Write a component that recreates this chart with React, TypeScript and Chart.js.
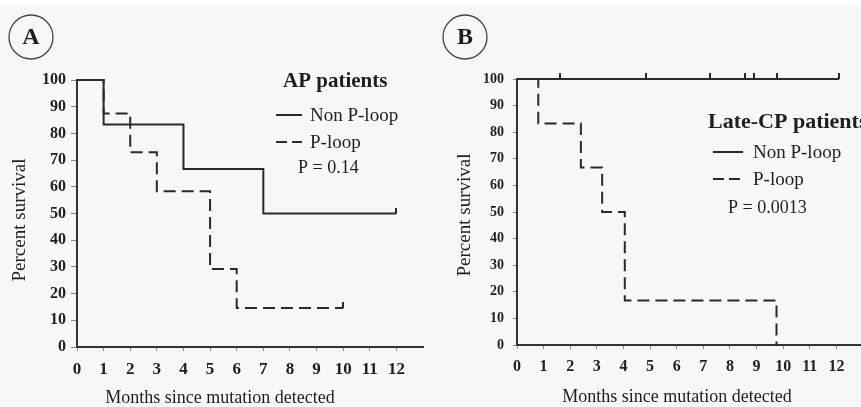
import React, { useEffect, useRef } from "react";
import { Chart, registerables } from "chart.js";

Chart.register(...registerables);

// ---------- data ----------
const monthTicks = [0, 1, 2, 3, 4, 5, 6, 7, 8, 9, 10, 11, 12];
const percentTicks = [0, 10, 20, 30, 40, 50, 60, 70, 80, 90, 100];

// Panel A – AP patients
const aNonTimes = [0, 1, 4, 7, 12];
const aNonSurv = [100, 83.3, 66.7, 50, 50];
const aNonCensor = [12];
const aPTimes = [0, 1, 2, 3, 5, 6, 10];
const aPSurv = [100, 87.5, 72.9, 58.3, 29.2, 14.6, 14.6];
const aPCensor = [10];

// Panel B – Late-CP patients
const bNonTimes = [0, 12.1];
const bNonSurv = [100, 100];
const bNonCensor = [1.6, 4.85, 7.25, 8.55, 8.9, 9.75, 12.1];
const bPTimes = [0, 0.8, 2.4, 3.2, 4.05, 9.75];
const bPSurv = [100, 83.3, 66.7, 50, 16.7, 0];
const bPCensor: number[] = [];

const seriesLabels = ["Non P-loop", "P-loop"];

// ---------- helpers ----------
const SERIF = '"Liberation Serif", "Times New Roman", serif';
const INK = "#2a2a2a";

function stepAt(times: number[], surv: number[], t: number) {
  let v = surv[0];
  for (let i = 0; i < times.length; i++) if (times[i] <= t) v = surv[i];
  return v;
}

function tickImage() {
  const c = document.createElement("canvas");
  c.width = 2;
  c.height = 12;
  const g = c.getContext("2d")!;
  g.fillStyle = INK;
  g.fillRect(0, 0, 2, 6);
  return c;
}

type Deco = {
  letter: string;
  circle: [number, number, number];
  title: string;
  titleSize: number;
  titlePos: [number, number];
  sampleX: number;
  sampleLen: number;
  legendY: [number, number];
  textX: number;
  pText: string;
  pPos: [number, number];
  yTitle: [number, number];
  xTitle: [number, number];
};

function makeDeco(d: Deco) {
  return {
    id: "deco",
    afterDraw(chart: any) {
      const ctx: CanvasRenderingContext2D = chart.ctx;
      ctx.save();
      // panel letter
      ctx.strokeStyle = "#444";
      ctx.lineWidth = 1.3;
      ctx.beginPath();
      ctx.arc(d.circle[0], d.circle[1], d.circle[2], 0, Math.PI * 2);
      ctx.stroke();
      ctx.fillStyle = "#1e1e1e";
      ctx.font = `bold 24px ${SERIF}`;
      ctx.textAlign = "center";
      ctx.textBaseline = "middle";
      ctx.fillText(d.letter, d.circle[0], d.circle[1] + 1);

      // title
      ctx.textAlign = "left";
      ctx.font = `bold ${d.titleSize}px ${SERIF}`;
      ctx.fillText(d.title, d.titlePos[0], d.titlePos[1]);

      // legend
      ctx.font = `19px ${SERIF}`;
      ctx.strokeStyle = INK;
      ctx.lineWidth = 2;
      seriesLabels.forEach((lab, i) => {
        const y = d.legendY[i];
        ctx.setLineDash(i === 0 ? [] : [11, 5]);
        ctx.beginPath();
        ctx.moveTo(d.sampleX, y);
        ctx.lineTo(d.sampleX + d.sampleLen, y);
        ctx.stroke();
        ctx.fillText(lab, d.textX, y + 1);
      });
      ctx.setLineDash([]);

      // p value
      ctx.font = `18px ${SERIF}`;
      ctx.fillText(d.pText, d.pPos[0], d.pPos[1]);

      // axis titles
      ctx.textAlign = "center";
      ctx.fillText("Months since mutation detected", d.xTitle[0], d.xTitle[1]);
      ctx.save();
      ctx.translate(d.yTitle[0], d.yTitle[1]);
      ctx.rotate(-Math.PI / 2);
      ctx.font = `19px ${SERIF}`;
      ctx.fillText("Percent survival", 0, 0);
      ctx.restore();

      ctx.restore();
    },
  };
}

type PanelProps = {
  nonTimes: number[];
  nonSurv: number[];
  nonCensor: number[];
  pTimes: number[];
  pSurv: number[];
  pCensor: number[];
  width: number;
  yAxisWidth: number;
  xAxisHeight: number;
  padTop: number;
  padRight: number;
  yTickFont: number;
  xTickFont: number;
  yTickLen: number;
  yTickPad: number;
  deco: Deco;
};

function Panel(p: PanelProps) {
  const ref = useRef<HTMLCanvasElement | null>(null);
  useEffect(() => {
    if (!ref.current) return;
    const img = tickImage();
    const curve = (times: number[], surv: number[], dash: number[]) => ({
      data: times.map((t, i) => ({ x: t, y: surv[i] })),
      showLine: true,
      stepped: true,
      borderColor: INK,
      borderWidth: 2,
      borderDash: dash,
      pointRadius: 0,
      clip: false as any,
    });
    const censor = (times: number[], surv: number[], marks: number[]) => ({
      data: marks.map((t) => ({ x: t, y: stepAt(times, surv, t) })),
      showLine: false,
      pointStyle: img as any,
      pointRadius: 6,
      clip: false as any,
    });
    const chart = new Chart(ref.current, {
      type: "scatter",
      data: {
        datasets: [
          curve(p.pTimes, p.pSurv, [12, 6]),
          curve(p.nonTimes, p.nonSurv, []),
          censor(p.pTimes, p.pSurv, p.pCensor),
          censor(p.nonTimes, p.nonSurv, p.nonCensor),
        ] as any,
      },
      options: {
        animation: false,
        responsive: false,
        events: [],
        layout: { padding: { top: p.padTop, right: p.padRight, left: 0, bottom: 0 } },
        plugins: { legend: { display: false }, tooltip: { enabled: false } },
        scales: {
          x: {
            type: "linear",
            min: 0,
            max: 13,
            afterBuildTicks: (s: any) => {
              s.ticks = monthTicks.map((v) => ({ value: v }));
            },
            afterFit: (s: any) => {
              s.height = p.xAxisHeight;
            },
            grid: { drawOnChartArea: false, drawTicks: true, tickLength: 4, tickColor: "#888" },
            border: { color: "#333", width: 2 },
            ticks: {
              autoSkip: false,
              maxRotation: 0,
              padding: 8,
              color: "#1e1e1e",
              font: { family: SERIF, size: p.xTickFont, weight: "bold" },
            },
          },
          y: {
            type: "linear",
            min: 0,
            max: 100,
            afterBuildTicks: (s: any) => {
              s.ticks = percentTicks.map((v) => ({ value: v }));
            },
            afterFit: (s: any) => {
              s.width = p.yAxisWidth;
            },
            grid: { drawOnChartArea: false, drawTicks: true, tickLength: p.yTickLen, tickColor: "#888" },
            border: { color: "#333", width: 2 },
            ticks: {
              padding: p.yTickPad,
              color: "#1e1e1e",
              font: { family: SERIF, size: p.yTickFont, weight: "bold" },
            },
          },
        },
      } as any,
      plugins: [makeDeco(p.deco)],
    });
    return () => chart.destroy();
  }, []);
  return <canvas ref={ref} width={p.width} height={407} style={{ display: "block" }} />;
}

export default function App() {
  return (
    <div
      style={{
        position: "absolute",
        left: 0,
        top: 0,
        width: 861,
        height: 407,
        overflow: "hidden",
        background: "#f7f7f7",
      }}
    >
      <div style={{ position: "absolute", left: 0, top: 0, width: 861, height: 5, background: "#ffffff" }} />
      <div style={{ position: "absolute", left: 0, top: 0 }}>
        <Panel
          nonTimes={aNonTimes}
          nonSurv={aNonSurv}
          nonCensor={aNonCensor}
          pTimes={aPTimes}
          pSurv={aPSurv}
          pCensor={aPCensor}
          width={430}
          yAxisWidth={77}
          xAxisHeight={60}
          padTop={80}
          padRight={5}
          yTickFont={16}
          xTickFont={17}
          yTickLen={6}
          yTickPad={5}
          deco={{
            letter: "A",
            circle: [31, 37, 22],
            title: "AP patients",
            titleSize: 21,
            titlePos: [283, 82],
            sampleX: 276,
            sampleLen: 26,
            legendY: [115, 142],
            textX: 310,
            pText: "P = 0.14",
            pPos: [298, 168],
            yTitle: [20, 220],
            xTitle: [220, 398],
          }}
        />
      </div>
      <div style={{ position: "absolute", left: 430, top: 0 }}>
        <Panel
          nonTimes={bNonTimes}
          nonSurv={bNonSurv}
          nonCensor={bNonCensor}
          pTimes={bPTimes}
          pSurv={bPSurv}
          pCensor={bPCensor}
          width={440}
          yAxisWidth={87}
          xAxisHeight={62}
          padTop={79}
          padRight={4}
          yTickFont={14}
          xTickFont={16}
          yTickLen={4}
          yTickPad={9}
          deco={{
            letter: "B",
            circle: [35, 37, 22],
            title: "Late-CP patients",
            titleSize: 22,
            titlePos: [278, 122],
            sampleX: 283,
            sampleLen: 30,
            legendY: [152, 179],
            textX: 323,
            pText: "P = 0.0013",
            pPos: [298, 208],
            yTitle: [35, 215],
            xTitle: [247, 397],
          }}
        />
      </div>
    </div>
  );
}
